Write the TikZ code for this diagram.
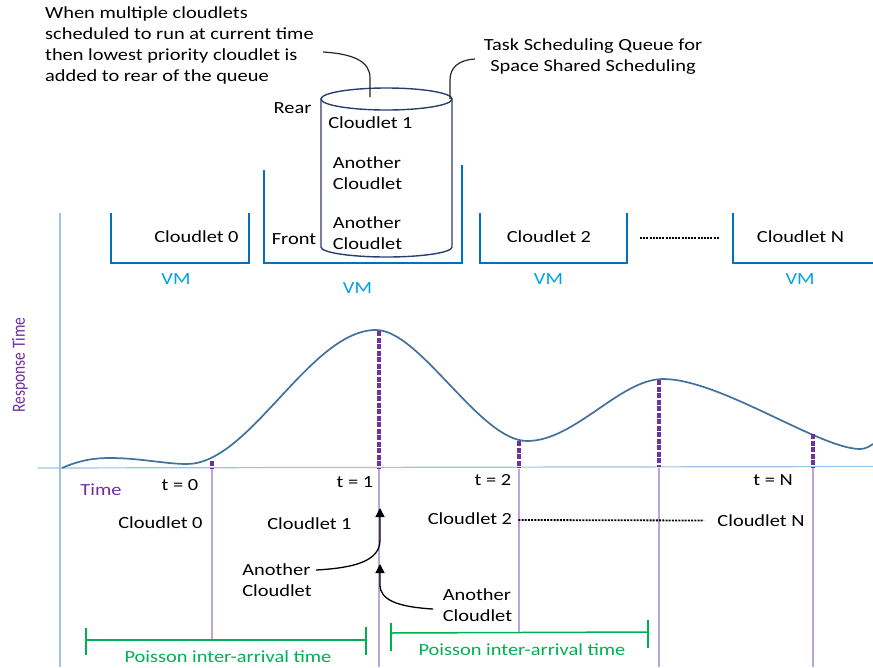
\documentclass[tikz,border=0pt]{standalone}
\usepackage{fontspec}
\setmainfont{Carlito}[FakeStretch=1.2]
\newfontfamily\plainfont{Carlito}
\usetikzlibrary{arrows.meta}
\definecolor{navy}{RGB}{44,62,110}
\definecolor{vmblue}{RGB}{0,112,192}
\definecolor{vmtext}{RGB}{0,160,230}
\definecolor{axisblue}{RGB}{157,195,230}
\definecolor{curveblue}{RGB}{65,113,156}
\definecolor{purp}{RGB}{112,48,160}
\definecolor{lpurp}{RGB}{190,165,215}
\definecolor{pgreen}{RGB}{0,176,80}
\begin{document}
\begin{tikzpicture}[x=1pt,y=-1pt,
  txt/.style={inner sep=0pt, font=\fontsize{17}{21}\selectfont, text=black},
  vmlabel/.style={txt, text=vmtext},
  vmbox/.style={draw=vmblue, line width=1.6pt},
  cyl/.style={draw=navy, line width=1.4pt},
  callout/.style={draw=black!85, line width=1.2pt},
  arr/.style={draw=black, line width=1.3pt, -{Triangle[length=9pt,width=9pt]}},
  blackdots/.style={draw=black, line width=2.2pt, dash pattern=on 2pt off 1.2pt},
  axisline/.style={draw=axisblue, line width=1.2pt},
  mark line/.style={draw=purp, line width=3.6pt, dash pattern=on 5pt off 1.5pt},
  tick line/.style={draw=lpurp, line width=1.1pt},
  poisson/.style={draw=pgreen, line width=1.5pt},
  plabel/.style={txt, text=pgreen}]
\useasboundingbox (0,0) rectangle (873,667);

% ---------- annotations on top ----------
\node[txt, anchor=west, align=left] (note) at (45,45.5)
  {When multiple cloudlets\\scheduled to run at current time\\then lowest priority cloudlet is\\added to rear of the queue};
\node[txt, align=center] (queue) at (593,57) {Task Scheduling Queue for\\Space Shared Scheduling};

% ---------- cylinder (queue) ----------
\draw[cyl] (321,99) -- (321,247) arc[start angle=180, end angle=360, x radius=65.5pt, y radius=10pt] -- (452,99);
\draw[cyl] (386.5,99) ellipse [x radius=65.5pt, y radius=11pt];
\coordinate (cyltop) at (370,97);
\coordinate (cylright) at (450,99);
\coordinate (notestart) at (323,52);
\coordinate (queuestart) at (475,59);
\draw[callout] (notestart) .. controls (355,54) and (370,62) .. (370,78) -- (cyltop);
\draw[callout] (queuestart) .. controls (458,60) and (450,68) .. (450,80) -- (cylright);

\node[txt] (rear) at (292.5,108) {Rear};
\node[txt] (front) at (294,239) {Front};
\node[txt] (qc1) at (370.5,123) {Cloudlet 1};
\node[txt, align=left] (qa1) at (367.5,173.5) {Another\\Cloudlet};
\node[txt, align=left] (qa2) at (367.5,233) {Another\\Cloudlet};

% ---------- VM brackets ----------
\draw[vmbox] (111,213) -- (111,263) -- (249,263) -- (249,213);
\draw[vmbox] (264,170) -- (264,263) -- (462,263) -- (462,165);
\draw[vmbox] (480,213) -- (480,263) -- (627,263) -- (627,213);
\draw[vmbox] (733,213) -- (733,263) -- (873,263);

\node[txt] (uc0) at (196.5,237) {Cloudlet 0};
\node[txt] (uc2) at (549,237) {Cloudlet 2};
\node[txt] (ucn) at (800.5,237) {Cloudlet N};
\draw[blackdots] (640,238) -- (719,238);

\node[vmlabel] (vm0) at (176,279) {VM};
\node[vmlabel] (vm1) at (357.5,288) {VM};
\node[vmlabel] (vm2) at (548.5,279) {VM};
\node[vmlabel] (vmn) at (800,279) {VM};

% ---------- axes ----------
\draw[axisline] (60,213) -- (60,667);
\draw[axisline] (38,468) -- (873,466.5);
\node[inner sep=0pt, rotate=90, font=\plainfont\fontsize{15.5}{18}\selectfont, text=purp] (rt) at (20,365) {\scalebox{1}[1.2]{Response Time}};
\node[txt, text=purp] (time) at (101,490) {Time};

% ---------- response curve ----------
\draw[curveblue, line width=1.7pt]
  (62,468) .. controls (80,460) and (95,458) .. (110,458)
  .. controls (140,458) and (165,464) .. (187,464)
  .. controls (250,464) and (310,330) .. (376,330)
  .. controls (420,330) and (480,441) .. (527,441)
  .. controls (575,441) and (620,379) .. (663,379)
  .. controls (720,379) and (820,449) .. (860,449)
  .. controls (866,449) and (870,446) .. (873,444);

% marks at arrival instants
\draw[mark line] (212,461) -- (212,468);
\draw[mark line] (379,331) -- (379,468);
\draw[mark line] (519,441) -- (519,468);
\draw[mark line] (659,380) -- (659,467);
\draw[mark line] (813,434) -- (813,467);

% thin lines below the axis
\draw[tick line] (212,469) -- (212,640);
\draw[tick line] (379,469) -- (379,667);
\draw[tick line] (519,469) -- (519,633);
\draw[tick line] (659,468) -- (659,667);
\draw[tick line] (813,468) -- (813,667);

\node[txt] (t0) at (180,485) {t = 0};
\node[txt] (t1) at (355,482) {t = 1};
\node[txt] (t2) at (493,480) {t = 2};
\node[txt] (tn) at (773,480) {t = N};

\node[txt] (lc0) at (160.5,523) {Cloudlet 0};
\node[txt] (lc1) at (309.5,524) {Cloudlet 1};
\node[txt] (lc2) at (470,519) {Cloudlet 2};
\node[txt] (lcn) at (761,521) {Cloudlet N};
\draw[blackdots, line width=1.8pt] (lc2.east) ++(6,1) -- (704,520.5);

% ---------- arrivals at t = 1 ----------
\node[txt, align=left] (an1) at (277,580) {Another\\Cloudlet};
\node[txt, align=left] (an2) at (477.5,605.5) {Another\\Cloudlet};
\coordinate (an1s) at (316,570);
\coordinate (an2s) at (433,609);
\coordinate (tip1) at (380,508);
\coordinate (tip2) at (380,564);
\draw[arr] (an1s) .. controls (352,568) and (380,562) .. (380,540) -- (tip1);
\draw[arr] (an2s) .. controls (398,607) and (380,600) .. (380,585) -- (tip2);

% ---------- Poisson inter-arrival brackets ----------
\draw[poisson] (86,628) -- (86,655);
\draw[poisson] (86,640) -- (366,640);
\draw[poisson] (366,627) -- (366,655);
\node[plabel] (p1) at (228,657) {Poisson inter-arrival time};
\draw[poisson] (391,623) -- (391,651);
\draw[poisson] (391,633) -- (648,632);
\draw[poisson] (648,620) -- (648,648);
\node[plabel] (p2) at (522,650) {Poisson inter-arrival time};
\end{tikzpicture}
\end{document}
